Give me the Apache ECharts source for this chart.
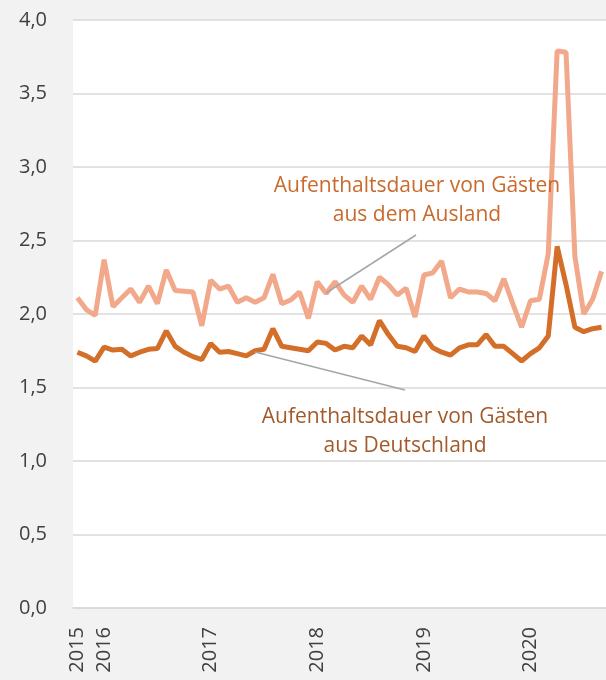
<!DOCTYPE html>
<html>
<head>
<meta charset="utf-8">
<script src="https://cdn.jsdelivr.net/npm/echarts@6/dist/echarts.min.js"></script>
<style>
  html, body { margin: 0; padding: 0; background: #f2f2f2; }
  #chart { width: 606px; height: 680px; }
</style>
</head>
<body>
<div id="chart"></div>
<script>
// Monate Okt 2015 bis Sep 2020
var months = [
  '2015-10', '2015-11', '2015-12',
  '2016-01', '2016-02', '2016-03', '2016-04', '2016-05', '2016-06', '2016-07', '2016-08', '2016-09', '2016-10', '2016-11', '2016-12',
  '2017-01', '2017-02', '2017-03', '2017-04', '2017-05', '2017-06', '2017-07', '2017-08', '2017-09', '2017-10', '2017-11', '2017-12',
  '2018-01', '2018-02', '2018-03', '2018-04', '2018-05', '2018-06', '2018-07', '2018-08', '2018-09', '2018-10', '2018-11', '2018-12',
  '2019-01', '2019-02', '2019-03', '2019-04', '2019-05', '2019-06', '2019-07', '2019-08', '2019-09', '2019-10', '2019-11', '2019-12',
  '2020-01', '2020-02', '2020-03', '2020-04', '2020-05', '2020-06', '2020-07', '2020-08', '2020-09'
]

var ausland = [
  2.11, 2.03, 1.99, 2.37, 2.05, 2.11, 2.17, 2.08, 2.19, 2.07,
  2.30, 2.16, 2.155, 2.15, 1.92, 2.23, 2.17, 2.19, 2.08, 2.11,
  2.08, 2.11, 2.27, 2.07, 2.095, 2.15, 1.97, 2.22, 2.14, 2.22,
  2.13, 2.08, 2.19, 2.10, 2.25, 2.20, 2.13, 2.175, 1.98, 2.265,
  2.28, 2.36, 2.11, 2.17, 2.15, 2.15, 2.14, 2.09, 2.24, 2.07,
  1.91, 2.09, 2.10, 2.41, 3.79, 3.78, 2.39, 2.00, 2.10, 2.29
]

var deutschland = [
  1.74, 1.715, 1.68, 1.775, 1.755, 1.76, 1.715, 1.74, 1.76, 1.765,
  1.885, 1.78, 1.74, 1.71, 1.69, 1.80, 1.74, 1.745, 1.73, 1.715,
  1.75, 1.76, 1.90, 1.78, 1.77, 1.76, 1.75, 1.81, 1.80, 1.755,
  1.78, 1.77, 1.85, 1.79, 1.955, 1.86, 1.78, 1.77, 1.745, 1.85,
  1.77, 1.74, 1.72, 1.77, 1.79, 1.79, 1.86, 1.78, 1.78, 1.73,
  1.68, 1.73, 1.77, 1.85, 2.46, 2.20, 1.91, 1.88, 1.90, 1.91
]

var seriesNames = ['Aufenthaltsdauer von Gästen aus dem Ausland', 'Aufenthaltsdauer von Gästen aus Deutschland']

var font = "'Open Sans', 'Noto Sans', sans-serif"

var chart = echarts.init(document.getElementById('chart'))

chart.setOption({
  backgroundColor: '#f2f2f2',
  animation: false,
  grid: {
    left: 73,
    right: 0,
    top: 20,
    bottom: 72,
    show: true,
    backgroundColor: '#ffffff',
    borderWidth: 0
  },
  xAxis: {
    type: 'category',
    data: months,
    boundaryGap: true,
    axisLine: { show: true, lineStyle: { color: '#d9d9d9', width: 1.5 } },
    axisTick: { show: false },
    axisLabel: {
      interval: 0,
      rotate: 90,
      margin: 19,
      fontSize: 20,
      fontFamily: font,
      color: '#404040',
      formatter: function (value, index) {
        if (index === 0 || value.slice(5) === '01') {
          return value.slice(0, 4)
        }
        return ''
      }
    }
  },
  yAxis: {
    type: 'value',
    min: 0,
    max: 4,
    interval: 0.5,
    axisLine: { show: false },
    axisTick: { show: false },
    splitLine: { lineStyle: { color: '#d9d9d9', width: 1.5 } },
    axisLabel: {
      margin: 26,
      fontSize: 20,
      fontFamily: font,
      color: '#404040',
      formatter: function (v) {
        return v.toFixed(1).replace('.', ',')
      }
    }
  },
  series: [{
    name: seriesNames[0],
    type: 'line',
    data: ausland,
    showSymbol: false,
    lineStyle: { color: '#f2a88a', width: 5 },
    z: 2
  }, {
    name: seriesNames[1],
    type: 'line',
    data: deutschland,
    showSymbol: false,
    lineStyle: { color: '#d46f2a', width: 5 },
    z: 3
  }],
  graphic: [{
    type: 'line',
    shape: { x1: 416, y1: 235, x2: 326, y2: 293 },
    style: { stroke: '#a6a6a6', lineWidth: 1.5 },
    z: 10
  }, {
    type: 'line',
    shape: { x1: 255, y1: 352, x2: 405, y2: 390 },
    style: { stroke: '#a6a6a6', lineWidth: 1.5 },
    z: 10
  }, {
    type: 'text',
    x: 417,
    y: 172,
    style: {
      text: 'Aufenthaltsdauer von Gästen\naus dem Ausland',
      font: '21px ' + font,
      fill: '#c96a2c',
      textAlign: 'center',
      textVerticalAlign: 'top',
      lineHeight: 29
    },
    z: 10
  }, {
    type: 'text',
    x: 405,
    y: 403,
    style: {
      text: 'Aufenthaltsdauer von Gästen\naus Deutschland',
      font: '21px ' + font,
      fill: '#a35a2a',
      textAlign: 'center',
      textVerticalAlign: 'top',
      lineHeight: 29
    },
    z: 10
  }]
})
</script>
</body>
</html>
